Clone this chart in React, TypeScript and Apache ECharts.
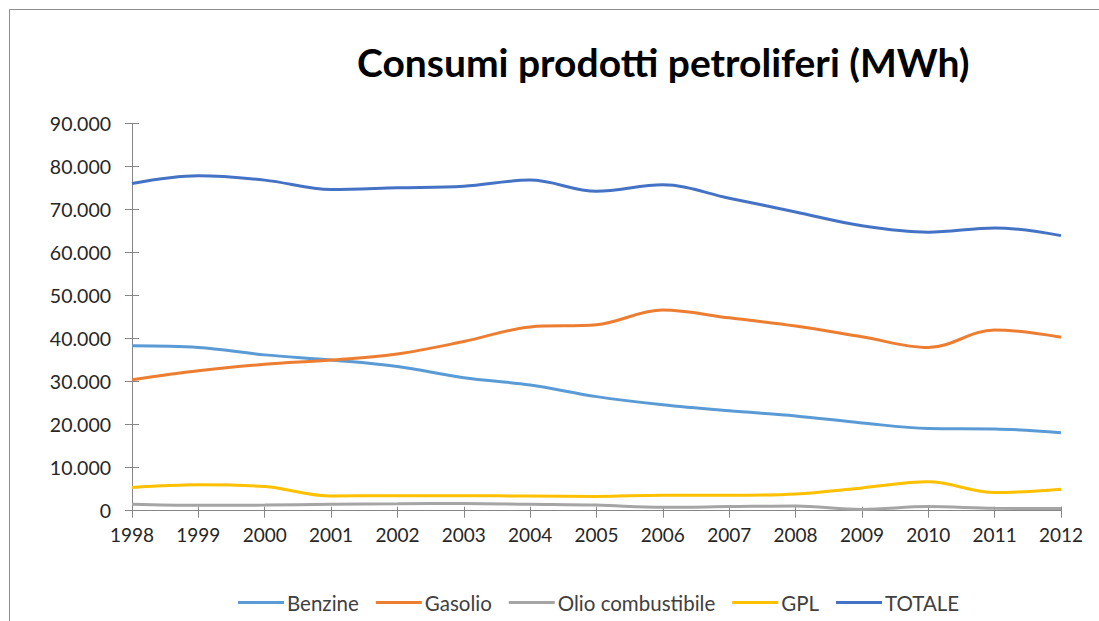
import React, { useEffect, useRef } from "react";
import * as echarts from "echarts";

const years = ["1998","1999","2000","2001","2002","2003","2004","2005","2006","2007","2008","2009","2010","2011","2012"];
const benzine = [38300,37900,36200,35000,33500,30900,29200,26500,24600,23200,22000,20400,19100,19000,18100];
const gasolio = [30400,32500,34000,35000,36400,39300,42700,43200,46600,44800,42900,40400,37900,42000,40300];
const olio = [1500,1250,1300,1500,1600,1700,1500,1300,800,950,1100,300,950,550,500];
const gpl = [5400,6000,5600,3400,3500,3500,3400,3300,3600,3600,3900,5300,6700,4200,5000];
const totale = [76000,77800,76800,74600,75000,75400,76800,74200,75700,72600,69400,66200,64700,65700,63900];

const seriesNames = ["Benzine", "Gasolio", "Olio combustibile", "GPL", "TOTALE"];
const seriesColors = ["#5B9BD5", "#ED7D31", "#A5A5A5", "#FFC000", "#4472C4"];
const seriesData = [benzine, gasolio, olio, gpl, totale];

const FONT = "Lato, 'Open Sans', sans-serif";

function fmt(v: number): string {
  return String(v).replace(/\B(?=(\d{3})+(?!\d))/g, ".");
}

export default function App() {
  const ref = useRef<HTMLDivElement>(null);
  useEffect(() => {
    if (!ref.current) return;
    const chart = echarts.init(ref.current, null, { renderer: "svg" });
    const grid = { left: 132, right: 38, top: 123.3, bottom: 110.3 };
    chart.setOption({
      animation: false,
      backgroundColor: "#ffffff",
      title: {
        text: "Consumi prodotti petroliferi (MWh)",
        left: 352,
        top: 37,
        textStyle: { fontFamily: FONT, fontWeight: "bold", fontSize: 39, color: "#000000" },
      },
      graphic: [
        {
          type: "rect",
          shape: { x: 9.5, y: 9.5, width: 1200, height: 700 },
          style: { fill: "none", stroke: "#8c8c8c", lineWidth: 1 },
          silent: true,
        },
      ],
      legend: {
        data: seriesNames,
        left: 233,
        top: 587,
        icon: "rect",
        itemWidth: 46,
        itemHeight: 3,
        itemGap: 17,
        textStyle: { fontFamily: FONT, fontSize: 20.5, color: "#404040", padding: [0, 0, 0, -2] },
      },
      grid,
      xAxis: [
        {
          type: "category",
          data: years,
          boundaryGap: false,
          axisLine: { lineStyle: { color: "#868686", width: 1 } },
          axisTick: { show: true, length: 7, lineStyle: { color: "#868686" } },
          axisLabel: { fontFamily: FONT, fontSize: 19, color: "#262626", margin: 14 },
          splitLine: { show: false },
        },
        {
          type: "category",
          data: years,
          position: "bottom",
          boundaryGap: false,
          axisLine: { show: false },
          axisTick: { show: true, inside: true, length: 4, lineStyle: { color: "#868686" } },
          axisLabel: { show: false },
          splitLine: { show: false },
        },
      ],
      yAxis: [
        {
          type: "value",
          min: 0,
          max: 90000,
          interval: 10000,
          axisLine: { show: true, lineStyle: { color: "#868686", width: 1 } },
          axisTick: { show: true, length: 7, lineStyle: { color: "#868686" } },
          axisLabel: { fontFamily: FONT, fontSize: 19.5, color: "#262626", margin: 21, formatter: (v: number) => fmt(v) },
          splitLine: { show: false },
        },
        {
          type: "value",
          min: 0,
          max: 90000,
          interval: 10000,
          position: "left",
          axisLine: { show: false },
          axisTick: { show: true, inside: true, length: 7, lineStyle: { color: "#868686" } },
          axisLabel: { show: false },
          splitLine: { show: false },
        },
      ],
      series: seriesNames.map((name, i) => ({
        name,
        type: "line",
        data: seriesData[i],
        smooth: 0.35,
        symbol: "none",
        color: seriesColors[i],
        lineStyle: { color: seriesColors[i], width: 3 },
        z: 2 + i,
      })),
    });
    return () => chart.dispose();
  }, []);
  return (
    <div
      ref={ref}
      style={{ position: "fixed", left: 0, top: 0, width: 1099, height: 621, background: "#fff" }}
    />
  );
}
